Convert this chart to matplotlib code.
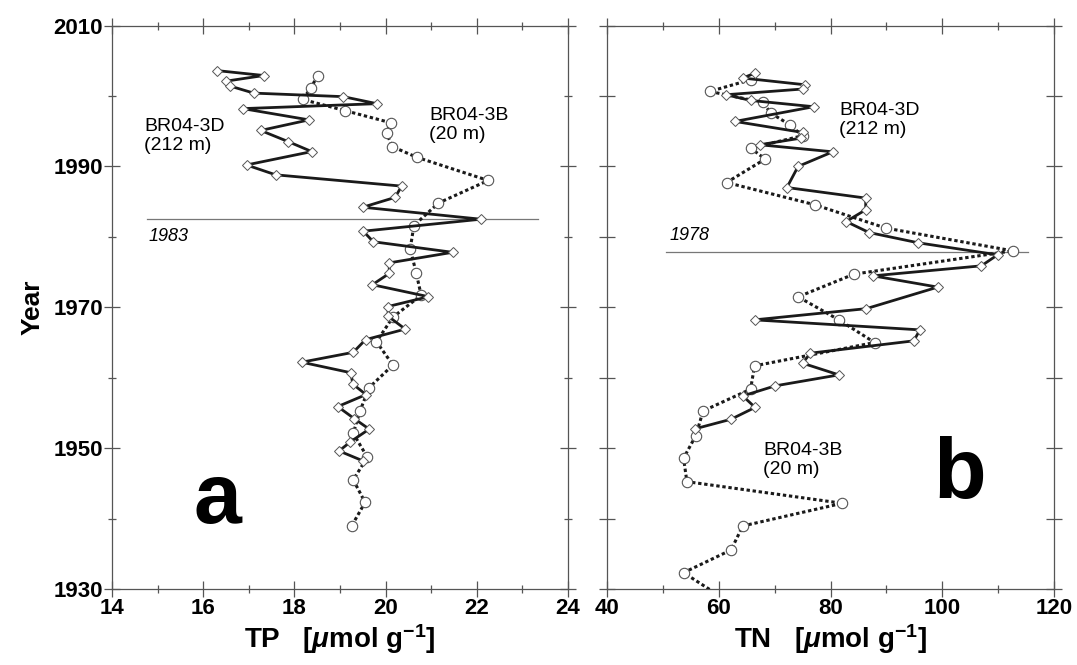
import matplotlib
matplotlib.use("Agg")
import matplotlib.pyplot as plt
from matplotlib.ticker import MultipleLocator

plt.rcParams['font.family'] = ['Liberation Sans', 'DejaVu Sans']
plt.rcParams['mathtext.fontset'] = 'custom'
plt.rcParams['mathtext.rm'] = 'Liberation Sans:bold'
plt.rcParams['mathtext.bf'] = 'Liberation Sans:bold'
plt.rcParams['mathtext.it'] = 'Liberation Sans:italic:bold'

# ---------------- Data ----------------
# Panel a: TP
tp_3d_year = [2003.6, 2002.9, 2002.1, 2001.4, 2000.4, 1999.9, 1998.9, 1998.2, 1996.6, 1995.1,
              1993.5, 1992.1, 1990.2, 1988.8, 1987.2, 1985.6, 1984.2, 1982.5, 1980.8, 1979.3,
              1977.8, 1976.3, 1974.8, 1973.2, 1971.5, 1970.1, 1968.7, 1966.9, 1965.4, 1963.6,
              1962.2, 1960.7, 1959.1, 1957.6, 1955.9, 1954.2, 1952.7, 1950.9, 1949.6, 1948.2]
tp_3d = [16.30, 17.33, 16.50, 16.59, 17.11, 19.07, 19.81, 16.87, 18.32, 17.26,
         17.87, 18.38, 16.95, 17.59, 20.35, 20.21, 19.50, 22.09, 19.51, 19.73,
         21.47, 20.08, 20.08, 19.71, 20.94, 20.05, 20.06, 20.43, 19.56, 19.29,
         18.16, 19.24, 19.28, 19.57, 18.95, 19.31, 19.64, 19.23, 18.98, 19.50]

tp_3b_year = [2002.9, 2001.1, 1999.5, 1997.9, 1996.2, 1994.7, 1992.8, 1991.3, 1988.0, 1984.8,
              1981.6, 1978.3, 1974.9, 1971.7, 1968.6, 1965.1, 1961.8, 1958.6, 1955.3, 1952.1,
              1948.7, 1945.5, 1942.3, 1939.0]
tp_3b = [18.51, 18.36, 18.18, 19.12, 20.11, 20.02, 20.15, 20.68, 22.25, 21.16,
         20.62, 20.54, 20.67, 20.78, 20.16, 19.80, 20.16, 19.64, 19.44, 19.29,
         19.60, 19.29, 19.55, 19.26]

# Panel b: TN
tn_3d_year = [2003.25, 2002.54, 2001.59, 2000.98, 2000.17, 1999.36, 1998.47, 1996.38, 1994.82,
              1994.02, 1993.07, 1992.07, 1989.99, 1987.0, 1985.5, 1983.84, 1982.17, 1980.61,
              1979.15, 1977.44, 1975.88, 1974.46, 1972.86, 1969.80, 1968.21, 1966.79, 1965.23,
              1963.48, 1962.06, 1960.40, 1958.84, 1957.41, 1955.78, 1954.1, 1952.73]
tn_3d = [66.5, 64.3, 75.4, 75.0, 61.3, 65.7, 77.0, 62.9, 75.0,
         74.8, 67.3, 80.4, 74.2, 72.2, 86.3, 86.3, 82.8, 86.9,
         95.7, 109.9, 107.0, 87.6, 99.2, 86.4, 66.4, 96.0, 94.9,
         76.4, 75.0, 81.5, 70.1, 64.3, 66.5, 62.2, 55.7]

tn_3b_year = [2002.30, 2000.64, 1999.08, 1997.57, 1995.91, 1994.35, 1992.6, 1991.04, 1987.71,
              1984.55, 1981.24, 1978.01, 1974.70, 1971.48, 1968.21, 1964.99, 1961.68, 1958.37,
              1955.28, 1951.78, 1948.57, 1945.24, 1942.17, 1938.95, 1935.54, 1932.32, 1929.0]
tn_3b = [65.7, 58.4, 67.9, 69.3, 72.7, 75.0, 65.7, 68.3, 61.4,
         77.2, 89.9, 112.6, 84.2, 74.2, 81.5, 87.9, 66.4, 65.7,
         57.2, 55.9, 53.7, 54.3, 82.1, 64.3, 62.2, 53.7, 60.2]

# reference lines (year, x-start, x-end)
ref_a = (1982.5, 14.77, 23.34)
ref_b = (1977.9, 50.5, 115.3)

year_ticks = [1930, 1950, 1970, 1990, 2010]
tp_ticks = [14, 16, 18, 20, 22, 24]
tn_ticks = [40, 60, 80, 100, 120]

# ---------------- Figure ----------------
W, H = 1077, 665
fig = plt.figure(figsize=(W / 100, H / 100), dpi=100)
top_px, bot_px = 25.5, 589
axa = fig.add_axes([112 / W, 1 - bot_px / H, (568 - 112) / W, (bot_px - top_px) / H])
axb = fig.add_axes([607 / W, 1 - bot_px / H, (1054 - 607) / W, (bot_px - top_px) / H])

line_col = '#1a1a1a'
edge_col = '#555555'
spine_col = '#555555'

def draw(ax, x3d, y3d, x3b, y3b):
    ax.plot(x3b, y3b, color=line_col, lw=2.2, ls=(0, (1.1, 0.9)),
            marker='o', ms=7.5, mfc='white', mec=edge_col, mew=0.8, zorder=3)
    ax.plot(x3d, y3d, color=line_col, lw=2.0, ls='-',
            marker='D', ms=5, mfc='white', mec=edge_col, mew=0.7, zorder=4)

draw(axa, tp_3d, tp_3d_year, tp_3b, tp_3b_year)
draw(axb, tn_3d, tn_3d_year, tn_3b, tn_3b_year)

axa.plot([ref_a[1], ref_a[2]], [ref_a[0], ref_a[0]], color='#777777', lw=0.9, zorder=2)
axb.plot([ref_b[1], ref_b[2]], [ref_b[0], ref_b[0]], color='#777777', lw=0.9, zorder=2)

for ax, xt, xl, xminor in [(axa, tp_ticks, (14, 24), 1), (axb, tn_ticks, (40, 120), 10)]:
    ax.set_ylim(1930, 2010)
    ax.set_xlim(*xl)
    ax.set_xticks(xt)
    ax.set_yticks(year_ticks)
    ax.xaxis.set_minor_locator(MultipleLocator(xminor))
    ax.yaxis.set_minor_locator(MultipleLocator(10))
    for s in ax.spines.values():
        s.set_color(spine_col)
        s.set_linewidth(0.9)
    ax.tick_params(which='major', direction='inout', length=11, width=0.9, color=spine_col,
                   top=True, right=True, labelsize=16, pad=1)
    ax.tick_params(which='minor', direction='inout', length=6, width=0.9, color=spine_col,
                   top=True, right=True)
    for lab in ax.get_xticklabels() + ax.get_yticklabels():
        lab.set_fontweight('bold')

axb.tick_params(which='minor', axis='y', length=11)
axb.tick_params(axis='y', labelleft=False)

axa.set_xlabel(r'TP   [$\mu$mol g$^{-1}$]', fontsize=20, fontweight='bold', labelpad=2)
axb.set_xlabel(r'TN   [$\mu$mol g$^{-1}$]', fontsize=20, fontweight='bold', labelpad=2)
axa.set_ylabel('Year', fontsize=19, fontweight='bold', labelpad=6)

# annotations
axa.text(0.07, 0.835, 'BR04-3D\n(212 m)', transform=axa.transAxes, fontsize=14,
         va='top', ha='left', linespacing=1.15)
axa.text(0.695, 0.855, 'BR04-3B\n(20 m)', transform=axa.transAxes, fontsize=14,
         va='top', ha='left', linespacing=1.15)
axa.text(0.08, 0.64, '1983', transform=axa.transAxes, fontsize=13, style='italic',
         va='top', ha='left')
axa.text(0.232, 0.117, 'a', transform=axa.transAxes, fontsize=62, fontweight='bold',
         va='baseline', ha='center')

axb.text(0.52, 0.865, 'BR04-3D\n(212 m)', transform=axb.transAxes, fontsize=14,
         va='top', ha='left', linespacing=1.15)
axb.text(0.35, 0.26, 'BR04-3B\n(20 m)', transform=axb.transAxes, fontsize=14,
         va='top', ha='left', linespacing=1.15)
axb.text(0.14, 0.612, '1978', transform=axb.transAxes, fontsize=13, style='italic',
         va='bottom', ha='left')
axb.text(0.79, 0.161, 'b', transform=axb.transAxes, fontsize=62, fontweight='bold',
         va='baseline', ha='center')

fig.savefig('out.png', dpi=100)
